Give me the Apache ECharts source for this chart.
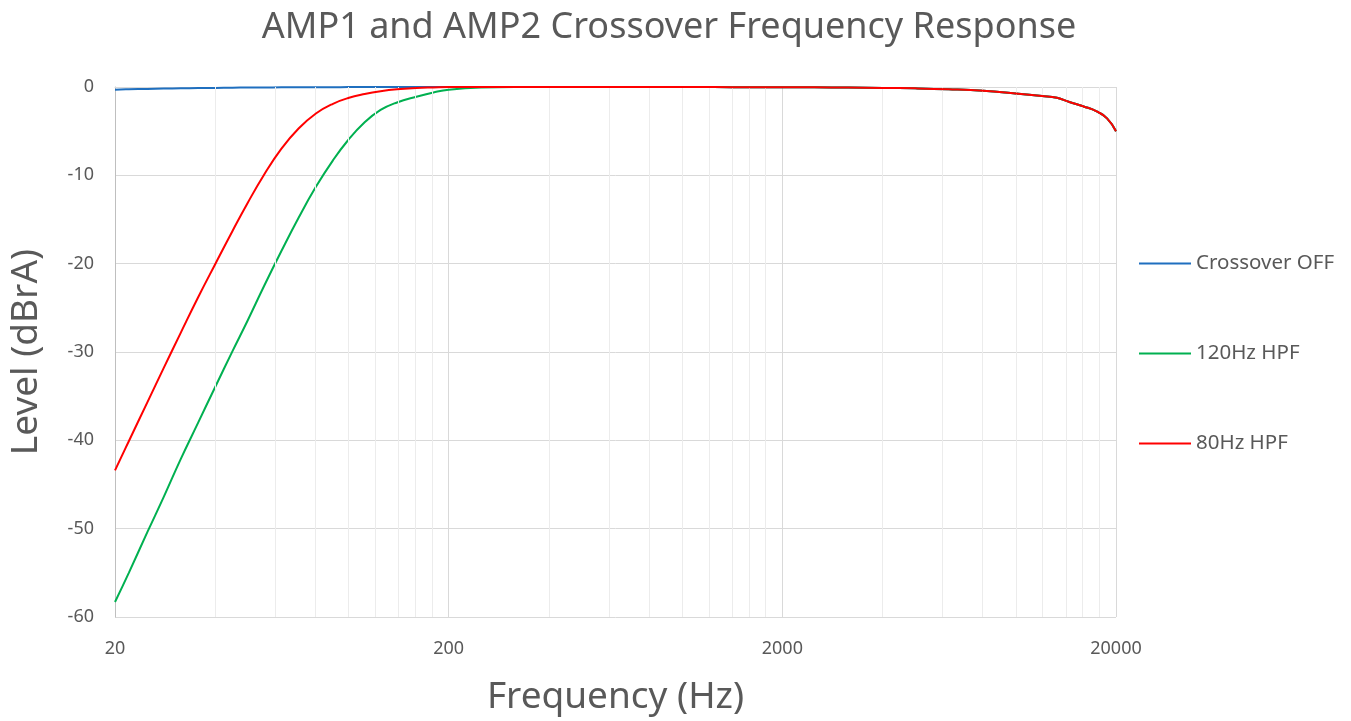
<!DOCTYPE html>
<html>
<head>
<meta charset="utf-8">
<script src="https://cdn.jsdelivr.net/npm/echarts@6/dist/echarts.min.js"></script>
<style>
html,body{margin:0;padding:0;background:#fff;}
#chart{width:1351px;height:721px;}
</style>
</head>
<body>
<div id="chart"></div>
<script>
// Frequencies (Hz)
const freqs = [20, 22, 25, 28, 31.5, 35.5, 40, 45, 50, 56, 63, 71, 80, 90, 100, 112, 125, 140, 160, 180,
  200, 250, 315, 400, 500, 630, 800, 1000, 1250, 1600, 2000, 2500, 3150, 4000, 5000, 6300, 8000,
  10000, 12000, 13300, 14500, 16000, 17500, 18800, 20000];
// Level (dBrA)
const crossoverOff = [-0.3, -0.26, -0.22, -0.18, -0.15, -0.12, -0.1, -0.08, -0.06, -0.05, -0.04, -0.03, -0.02, -0.02, -0.01, -0.01, 0, 0, 0, 0,
  0, 0, 0, 0, 0, 0, 0, 0, -0.01, -0.02, -0.03, -0.04, -0.06, -0.1, -0.15, -0.25, -0.42,
  -0.73, -1.02, -1.22, -1.7, -2.2, -2.75, -3.55, -5.0];
const hpf120 = [-58.3, -55.0, -50.4, -46.4, -42.1, -38.0, -33.9, -29.9, -26.4, -22.5, -18.6, -14.8, -11.3, -8.3, -6.0, -4.0, -2.6, -1.75, -1.1, -0.62,
  -0.3, -0.05, 0, 0, 0, 0, 0, 0, -0.01, -0.02, -0.03, -0.04, -0.06, -0.1, -0.15, -0.25, -0.42,
  -0.73, -1.02, -1.22, -1.7, -2.2, -2.75, -3.55, -5.0];
const hpf80 = [-43.4, -40.1, -35.7, -31.8, -27.8, -23.8, -20.0, -16.3, -13.1, -9.9, -7.0, -4.7, -3.0, -1.9, -1.25, -0.8, -0.48, -0.26, -0.12, -0.05,
  0, 0, 0, 0, 0, 0, 0, 0, -0.01, -0.02, -0.03, -0.04, -0.06, -0.1, -0.15, -0.25, -0.42,
  -0.73, -1.02, -1.22, -1.7, -2.2, -2.75, -3.55, -5.0];
const seriesNames = ['Crossover OFF', '120Hz HPF', '80Hz HPF'];
const seriesColors = ['#1f6fbf', '#00b050', '#ff0000'];
const xTickLabels = ['20', '200', '2000', '20000'];
const minorFactors = [2, 3, 4, 5, 6, 7, 8, 9];
const baseFreq = 20;

const lx = f => Math.log10(f / baseFreq);
const toData = arr => freqs.map((f, i) => [lx(f), arr[i]]);

const minorLines = [];
for (let d = 0; d < 3; d++) {
  minorFactors.forEach(k => minorLines.push({ xAxis: d + Math.log10(k) }));
}

const FONT = 'Noto Sans';
const chart = echarts.init(document.getElementById('chart'));
chart.setOption({
  backgroundColor: '#fff',
  animation: false,
  textStyle: { fontFamily: FONT },
  title: {
    text: 'AMP1 and AMP2 Crossover Frequency Response',
    left: 664, top: 5, textAlign: 'center',
    textStyle: { fontFamily: FONT, fontSize: 36, fontWeight: 'normal', color: '#595959' }
  },
  legend: {
    orient: 'vertical',
    left: 1139, top: 253, padding: 0,
    icon: 'rect',
    itemWidth: 52, itemHeight: 2, itemGap: 69,
    itemTextGap: 5,
    data: seriesNames,
    textStyle: { fontFamily: FONT, fontSize: 20.5, color: '#595959' }
  },
  grid: { left: 113, right: 235, top: 87, bottom: 104, containLabel: false },
  xAxis: {
    type: 'value', min: 0, max: 3, interval: 1,
    name: 'Frequency (Hz)', nameLocation: 'middle', nameGap: 62,
    nameTextStyle: { fontFamily: FONT, fontSize: 37, color: '#595959' },
    axisLine: { show: true, lineStyle: { color: '#d9d9d9', width: 1 } },
    axisTick: { show: false },
    axisLabel: {
      margin: 23, fontSize: 18, color: '#595959', fontFamily: FONT,
      formatter: v => xTickLabels[Math.round(v)]
    },
    splitLine: { show: true, lineStyle: { color: '#d9d9d9', width: 1 } }
  },
  yAxis: {
    type: 'value', min: -60, max: 0, interval: 10,
    name: 'Level (dBrA)', nameLocation: 'middle', nameGap: 70,
    nameTextStyle: { fontFamily: FONT, fontSize: 37, color: '#595959' },
    axisLine: { show: true, lineStyle: { color: '#bfbfbf', width: 1 } },
    axisTick: { show: false },
    axisLabel: { margin: 21, fontSize: 18, color: '#595959', fontFamily: FONT },
    splitLine: { show: true, lineStyle: { color: '#d9d9d9', width: 1 } }
  },
  series: [
    {
      name: '_minor', type: 'line', data: [], silent: true, z: 1,
      markLine: {
        silent: true, symbol: ['none', 'none'], label: { show: false },
        lineStyle: { color: '#ececec', width: 1, type: 'solid' },
        emphasis: { disabled: true },
        data: minorLines, animation: false
      }
    },
  ].concat([crossoverOff, hpf120, hpf80].map((arr, i) => ({
    name: seriesNames[i], type: 'line', data: toData(arr),
    showSymbol: false, symbol: 'none', smooth: 0.45,
    z: 3 + i,
    lineStyle: { color: seriesColors[i], width: 2 },
    itemStyle: { color: seriesColors[i] }
  })))
});
</script>
</body>
</html>
